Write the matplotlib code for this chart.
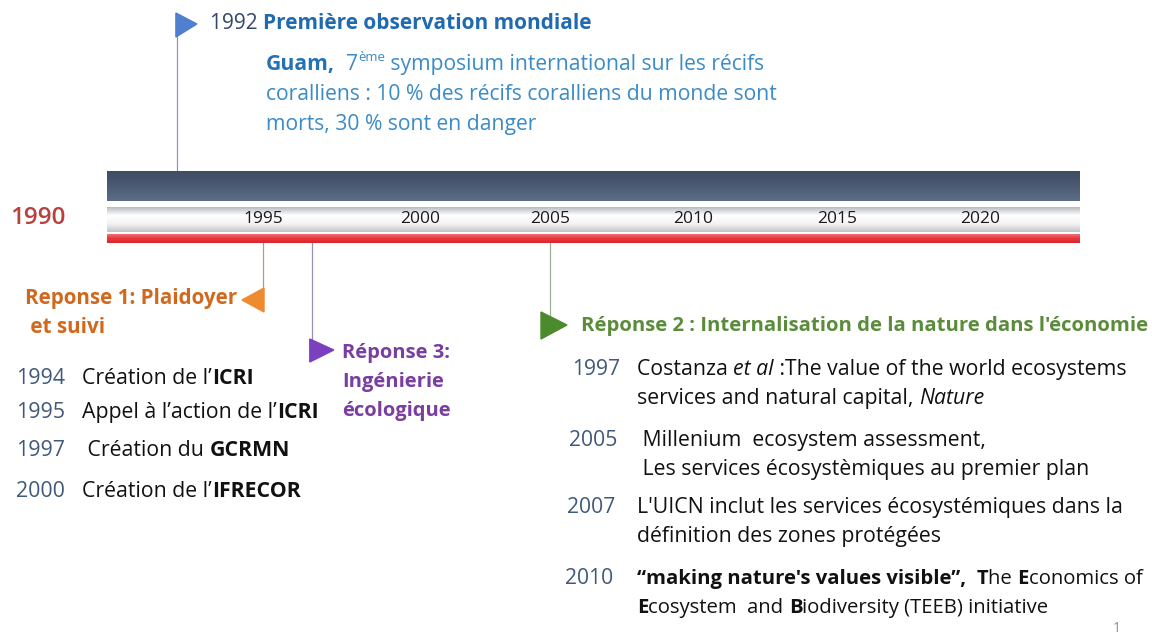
import matplotlib.pyplot as plt
import numpy as np
from matplotlib.colors import LinearSegmentedColormap

plt.rcParams['font.family'] = ['Open Sans', 'DejaVu Sans']

# Données de la frise
start_year = 1990
tick_years = [1995, 2000, 2005, 2010, 2015, 2020]
first_obs_year = 1992
first_obs_title = "Première observation mondiale"
first_obs_lines = [
    [("Guam,", "bold"), ("  7", None), ("ème", "sup"), (" symposium international sur les récifs", None)],
    [("coralliens : 10 % des récifs coralliens du monde sont", None)],
    [("morts, 30 % sont en danger", None)],
]

rep1_year = 1995
rep1_title = ["Reponse 1: Plaidoyer", " et suivi"]
rep1_years = ["1994", "1995", "1997", "2000"]
rep1_items = [
    [("Création de l’", None), ("ICRI", "bold")],
    [("Appel à l’action de l’", None), ("ICRI", "bold")],
    [(" Création du ", None), ("GCRMN", "bold")],
    [("Création de l’", None), ("IFRECOR", "bold")],
]

rep3_year = 1996.7
rep3_title = ["Réponse 3:", "Ingénierie", "écologique"]

rep2_year = 2005
rep2_title = "Réponse 2 : Internalisation de la nature dans l'économie"
rep2_years = ["1997", "2005", "2007", "2010"]
rep2_items = [
    [[("Costanza ", None), ("et al", "italic"), (" :The value of the world ecosystems", None)],
     [("services and natural capital, ", None), ("Nature", "italic")]],
    [[(" Millenium  ecosystem assessment,", None)],
     [(" Les services écosystèmiques au premier plan", None)]],
    [[("L'UICN inclut les services écosystémiques dans la", None)],
     [("définition des zones protégées", None)]],
    [[("“making nature's values visible”,  ", "bold"), ("T", "bold"), ("he ", None), ("E", "bold"),
      ("conomics of", None)],
     [("E", "bold"), ("cosystem  and ", None), ("B", "bold"), ("iodiversity (TEEB) initiative", None)]],
]

fig = plt.figure(figsize=(11.52, 6.37), dpi=100)
ax = fig.add_axes([0, 0, 1, 1])
ax.set_xlim(0, 1152)
ax.set_ylim(637, 0)
ax.axis('off')
renderer = fig.canvas.get_renderer()


def yx(year):
    # position horizontale d'une année sur la frise
    return 263 + (year - 1995) * 28.7


def runs(x, y, parts, size, color, base_color=None):
    for txt, style in parts:
        kw = dict(fontsize=size, color=color, va='baseline', ha='left')
        if style == "bold":
            kw["fontweight"] = "bold"
            if base_color:
                kw["color"] = base_color
        elif style == "italic":
            kw["fontstyle"] = "italic"
        elif style == "sup":
            kw["fontsize"] = size * 0.62
            t = ax.text(x, y - 9, txt, **kw)
            x += t.get_window_extent(renderer).width
            continue
        t = ax.text(x, y, txt, **kw)
        x += t.get_window_extent(renderer).width
    return x


# barres de la frise
x0, x1 = 107, 1080
grad = np.linspace(0, 1, 60).reshape(-1, 1)
ax.imshow(grad, extent=(x0, x1, 201, 171), aspect='auto', zorder=2,
          cmap=LinearSegmentedColormap.from_list("d", ["#3f4d62", "#4b5b73", "#5b6d87"]))
ax.imshow(grad, extent=(x0, x1, 232, 207), aspect='auto', zorder=2,
          cmap=LinearSegmentedColormap.from_list("s", ["#b9bcc0", "#ffffff", "#f4f4f4", "#c3c5c8"]))
ax.imshow(grad, extent=(x0, x1, 243, 234), aspect='auto', zorder=2,
          cmap=LinearSegmentedColormap.from_list("r", ["#f07074", "#e8363c", "#d9262c"]))

ax.text(38, 218, str(start_year), fontsize=17.5, color="#b8403d", ha='center', va='center',
        fontweight='semibold', zorder=3)
for yr in tick_years:
    ax.text(yx(yr) + (14 if yr == 2000 else 0), 219, str(yr), fontsize=12.5, color="#1a1a1a",
            ha='center', va='center', zorder=3)

# 1992 : première observation
ax.plot([yx(first_obs_year)] * 2, [16, 176], color="#8c9ab0", lw=0.9, zorder=1)
ax.fill([yx(first_obs_year) - 1, yx(first_obs_year) + 20, yx(first_obs_year) - 1],
        [13, 24, 37], color="#4f7fcf", zorder=3)
runs(210, 29, [(f"{first_obs_year} ", None), (first_obs_title, "bold")], 15, "#34476a",
     base_color="#1f6ab0")
for i, line in enumerate(first_obs_lines):
    runs(266, 70 + i * 30, line, 15.2, "#3a8bc6", base_color="#2372b6")

# Réponse 1
ax.plot([yx(rep1_year)] * 2, [243, 300], color="#b89880", lw=0.9, zorder=1)
ax.fill([yx(rep1_year) + 1, yx(rep1_year) - 21, yx(rep1_year) + 1],
        [288, 300, 312], color="#ef8a2e", zorder=3)
ax.text(25, 304, rep1_title[0], fontsize=14.9, color="#d0691d", fontweight='bold', va='baseline')
ax.text(25, 333, rep1_title[1], fontsize=14.9, color="#d0691d", fontweight='bold', va='baseline')
for i, (yr, item) in enumerate(zip(rep1_years, rep1_items)):
    yb = [384, 418, 456, 497][i]
    ax.text(16, yb, yr, fontsize=15.4, color="#40597a", va='baseline')
    runs(82, yb, item, 15.3, "#111111")

# Réponse 3
ax.plot([yx(rep3_year)] * 2, [243, 350], color="#9890b0", lw=0.9, zorder=1)
ax.fill([yx(rep3_year) - 2, yx(rep3_year) + 22, yx(rep3_year) - 2],
        [339, 350, 362], color="#7b3fc0", zorder=3)
for i, line in enumerate(rep3_title):
    ax.text(342, 358 + i * 29, line, fontsize=14.5, color="#7a3da0", fontweight='bold', va='baseline')

# Réponse 2
ax.plot([yx(rep2_year)] * 2, [243, 325], color="#a0b098", lw=0.9, zorder=1)
ax.fill([yx(rep2_year) - 9, yx(rep2_year) + 17, yx(rep2_year) - 9],
        [312, 325, 339], color="#4c8a2e", zorder=3)
ax.text(581, 331, rep2_title, fontsize=14.6, color="#5a8c3a", fontweight='bold', va='baseline')
for i, (yr, lines) in enumerate(zip(rep2_years, rep2_items)):
    yb = [375, 446, 513, 584][i]
    size = 14.6 if i == 3 else 15.3
    ax.text(572 - i * 2.5, yb, yr, fontsize=15.2, color="#40597a", va='baseline')
    for j, line in enumerate(lines):
        runs(637, yb + j * 29, line, size, "#111111")

ax.text(1117, 628, "1", fontsize=10, color="#909090", ha='center', va='center')

fig.savefig("out.png", dpi=100)
